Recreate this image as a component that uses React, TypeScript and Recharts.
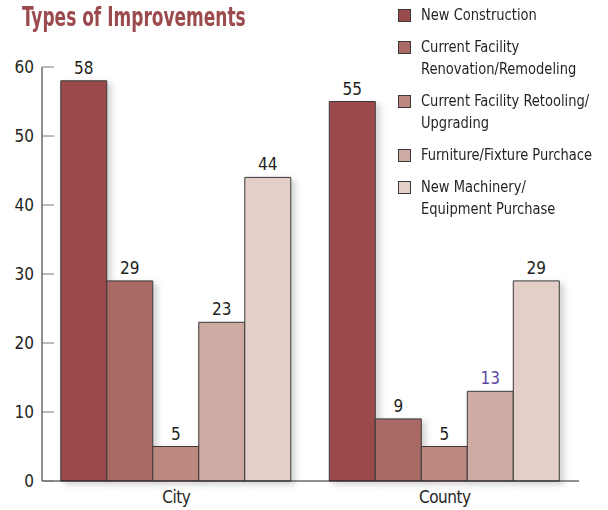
import { Bar, BarChart, LabelList, Legend, XAxis, YAxis } from "recharts";

const categories = ["City", "County"];
const seriesNames = [
  "New Construction",
  "Current Facility Renovation/Remodeling",
  "Current Facility Retooling/Upgrading",
  "Furniture/Fixture Purchace",
  "New Machinery/Equipment Purchase",
];
const legendLines = [
  ["New Construction"],
  ["Current Facility", "Renovation/Remodeling"],
  ["Current Facility Retooling/", "Upgrading"],
  ["Furniture/Fixture Purchace"],
  ["New Machinery/", "Equipment Purchase"],
];
const cityValues = [58, 29, 5, 23, 44];
const countyValues = [55, 9, 5, 13, 29];
const yTicks = [0, 10, 20, 30, 40, 50, 60];
const boundaryTicks = [0, 1, 2];

const COLORS = ["#9b4a4c", "#a96a66", "#bd8880", "#d0aba3", "#e3cec8"];
const FONT = '"Liberation Sans Narrow", "DejaVu Sans Condensed", "Roboto Condensed", sans-serif';
const INK = "#231f20";

const data = categories.map((name, ci) => {
  const vals = ci === 0 ? cityValues : countyValues;
  const row: Record<string, string | number> = { name };
  seriesNames.forEach((s, si) => {
    row[`s${si}`] = vals[si];
  });
  return row;
});

function LegendBox() {
  return (
    <div style={{ fontFamily: FONT, fontSize: 16.5, color: INK }}>
      {legendLines.map((lines, i) => (
        <div key={i} style={{ display: "flex", marginBottom: 10, lineHeight: "22px" }}>
          <div
            style={{
              width: 11,
              height: 11,
              marginTop: 5,
              marginRight: 10,
              background: COLORS[i],
              border: "1px solid #3a3a3a",
              flexShrink: 0,
            }}
          />
          <div style={{ whiteSpace: "nowrap", transform: "scaleX(0.88)", transformOrigin: "left" }}>
            {lines.map((l, j) => (
              <div key={j}>{l}</div>
            ))}
          </div>
        </div>
      ))}
    </div>
  );
}

function ValueLabel(props: any) {
  const { x, y, width, value, index, seriesIndex } = props;
  const purple = seriesIndex === 3 && index === 1;
  return (
    <text
      x={x + width / 2}
      y={y - 7}
      textAnchor="middle"
      fontFamily={FONT}
      fontSize={17}
      fill={purple ? "#5a4aa0" : INK}
    >
      {value}
    </text>
  );
}

export default function App() {
  return (
    <div style={{ position: "absolute", left: 0, top: 0, width: 608, height: 510, background: "#fff" }}>
      <div
        style={{
          position: "absolute",
          left: 22,
          top: 3,
          lineHeight: 1,
          fontFamily: FONT,
          fontWeight: "bold",
          fontSize: 27,
          color: "#9b4a4e",
          whiteSpace: "nowrap",
          transform: "scaleX(0.7)",
          transformOrigin: "left",
        }}
      >
        Types of Improvements
      </div>
      <BarChart
        width={608}
        height={510}
        data={data}
        margin={{ top: 67, right: 29, bottom: 0, left: 0 }}
        barCategoryGap="7%"
        barGap={0}
      >
        <defs>
          <filter id="barShadow" x="-20%" y="-20%" width="150%" height="150%">
            <feDropShadow dx={4} dy={3} stdDeviation={3} floodColor="#000" floodOpacity={0.18} />
          </filter>
        </defs>
        <XAxis
          xAxisId="bounds"
          type="number"
          domain={[0, 2]}
          ticks={boundaryTicks}
          tick={false}
          height={1}
          axisLine={false}
          tickSize={-11}
          tickLine={{ stroke: INK }}
        />
        <XAxis
          dataKey="name"
          height={28}
          axisLine={{ stroke: INK }}
          tickLine={false}
          tickMargin={4}
          tick={{ fontFamily: FONT, fontSize: 17, fill: INK, letterSpacing: -0.5 }}
        />
        <YAxis
          width={42}
          domain={[0, 60]}
          ticks={yTicks}
          interval={0}
          axisLine={{ stroke: INK }}
          tickSize={-12}
          tickMargin={20}
          tickLine={{ stroke: "#777" }}
          tick={{ fontFamily: FONT, fontSize: 17, fill: INK }}
        />
        <Legend
          layout="vertical"
          align="center"
          verticalAlign="middle"
          wrapperStyle={{ left: 398, top: 4, width: 210, height: "auto" }}
          content={() => <LegendBox />}
        />
        {seriesNames.map((s, si) => (
          <Bar
            key={s}
            dataKey={`s${si}`}
            name={s}
            fill={COLORS[si]}
            stroke="#3a3a3a"
            strokeWidth={1}
            filter="url(#barShadow)"
            isAnimationActive={false}
          >
            <LabelList dataKey={`s${si}`} content={(p: any) => <ValueLabel {...p} seriesIndex={si} />} />
          </Bar>
        ))}
      </BarChart>
    </div>
  );
}
